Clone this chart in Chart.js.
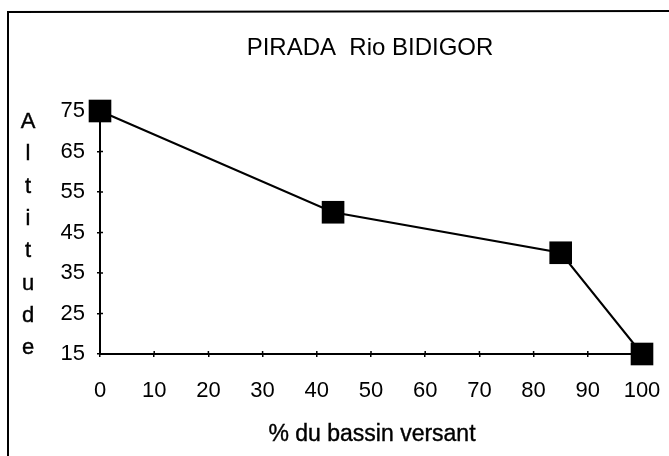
<!DOCTYPE html>
<html>
<head>
<meta charset="utf-8">
<script src="https://cdn.jsdelivr.net/npm/chart.js@4/dist/chart.umd.min.js"></script>
<style>
  html, body { margin: 0; padding: 0; background: #fff; }
  #wrap { width: 669px; height: 456px; }
</style>
</head>
<body>
<div id="wrap"><canvas id="altChart" width="669" height="456"></canvas></div>
<script>
// altitude profile of the catchment
const pctBasin = [0, 43, 85, 100]
const altitude = [75, 50, 40, 15]
const xTicks = [0, 10, 20, 30, 40, 50, 60, 70, 80, 90, 100]
const yTicks = [15, 25, 35, 45, 55, 65, 75]

const chartTitle = "PIRADA  Rio BIDIGOR"
const xTitle = "% du bassin versant"
const yTitle = "Altitude"

const FONT = "'Liberation Sans', Arial, Helvetica, sans-serif"

// frame, titles and the inner half of each tick mark
const decorations = {
  id: "decorations",
  beforeDraw(chart) {
    const ctx = chart.ctx
    ctx.save()
    ctx.strokeStyle = "#000"
    ctx.lineWidth = 2
    ctx.beginPath()
    ctx.moveTo(8, 456)
    ctx.lineTo(8, 12)
    ctx.lineTo(669, 11)
    ctx.stroke()
    ctx.restore()
  },
  afterDraw(chart) {
    const ctx = chart.ctx
    const area = chart.chartArea
    ctx.save()
    ctx.fillStyle = "#000"
    ctx.strokeStyle = "#000"
    ctx.textAlign = "center"
    ctx.textBaseline = "middle"
    ctx.lineWidth = 0.4
    ctx.font = "24px " + FONT
    ctx.fillText(chartTitle, 370, 48)
    ctx.font = "23px " + FONT
    ctx.fillText(xTitle, 372, 435)
    ctx.strokeText(xTitle, 372, 435)

    // vertical stacked letters for the y title
    ctx.font = "22px " + FONT
    const letters = yTitle.split("")
    letters.forEach((ch, i) => {
      ctx.fillText(ch, 28, 122 + i * 32.3)
      ctx.strokeText(ch, 28, 122 + i * 32.3)
    })

    ctx.lineWidth = 1.5
    ctx.beginPath()
    const xs = chart.scales.x
    xs.ticks.forEach((t, i) => {
      const px = xs.getPixelForTick(i)
      ctx.moveTo(px, area.bottom)
      ctx.lineTo(px, area.bottom - 3)
    })
    const ys = chart.scales.y
    ys.ticks.forEach((t, i) => {
      const py = ys.getPixelForTick(i)
      ctx.moveTo(area.left, py)
      ctx.lineTo(area.left + 3, py)
    })
    ctx.stroke()
    ctx.restore()
  }
}

new Chart("altChart", {
  type: "line",
  data: {
    datasets: [{
      data: pctBasin.map((x, i) => ({x: x, y: altitude[i]})),
      borderColor: "#000",
      borderWidth: 2,
      backgroundColor: "#000",
      pointStyle: "rect",
      pointRadius: 16,
      pointHoverRadius: 16,
      pointBorderWidth: 0,
      tension: 0,
      clip: false
    }]
  },
  options: {
    responsive: false,
    animation: false,
    layout: {padding: {left: 0, right: 27, top: 111, bottom: 0}},
    plugins: {legend: {display: false}, tooltip: {enabled: false}, title: {display: false}},
    scales: {
      x: {
        type: "linear",
        min: 0,
        max: 100,
        afterFit(scale) {
          scale.height = 102
          scale.paddingLeft = 0
          scale.paddingRight = 0
        },
        afterBuildTicks(scale) { scale.ticks = xTicks.map(v => ({value: v})) },
        border: {color: "#000", width: 2},
        grid: {drawOnChartArea: false, drawTicks: true, tickLength: 3, color: "#000", lineWidth: 1.5},
        ticks: {color: "#000", padding: 21, maxRotation: 0, autoSkip: false, font: {family: FONT, size: 22}}
      },
      y: {
        min: 15,
        max: 75,
        afterFit(scale) {
          scale.width = 100
          scale.paddingTop = 0
          scale.paddingBottom = 0
        },
        afterBuildTicks(scale) { scale.ticks = yTicks.map(v => ({value: v})) },
        border: {color: "#000", width: 2},
        grid: {drawOnChartArea: false, drawTicks: true, tickLength: 3, color: "#000", lineWidth: 1.5},
        ticks: {color: "#000", padding: 12, autoSkip: false, font: {family: FONT, size: 22}}
      }
    }
  },
  plugins: [decorations]
})
</script>
</body>
</html>
